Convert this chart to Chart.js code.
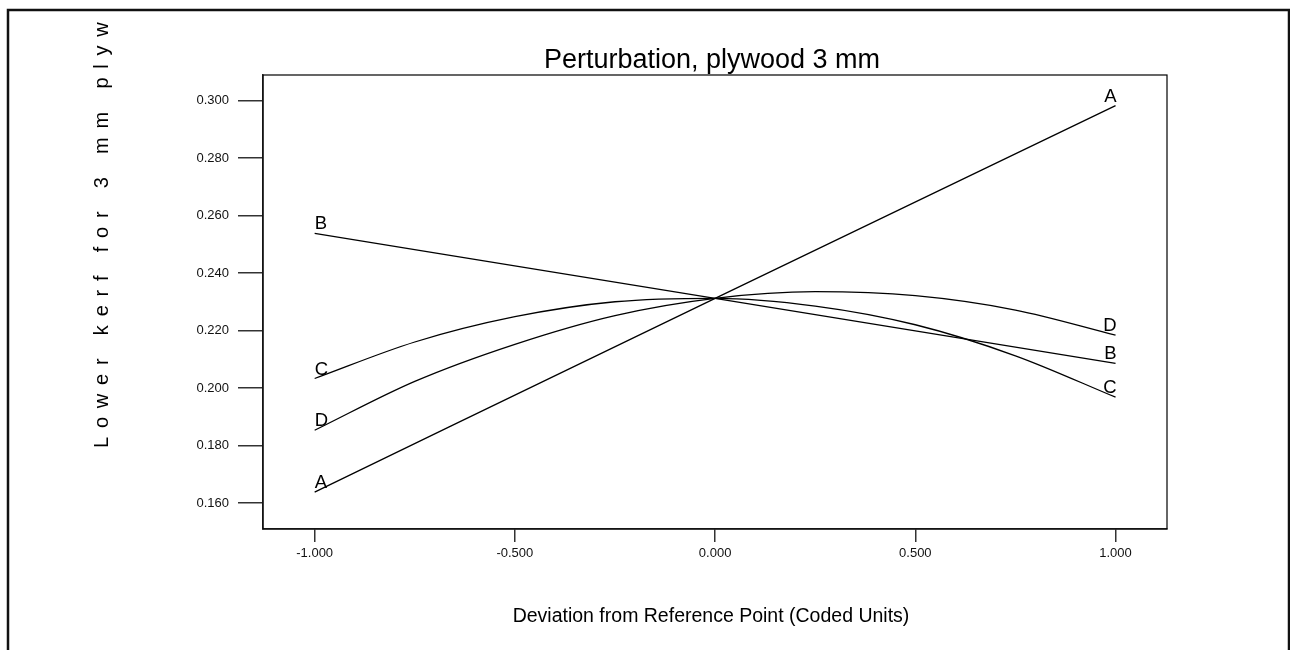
<!DOCTYPE html>
<html>
<head>
<meta charset="utf-8">
<script src="https://cdn.jsdelivr.net/npm/chart.js@4.4.0/dist/chart.umd.min.js"></script>
<style>
  html, body { margin: 0; padding: 0; background: #fff; }
  #wrap { width: 1290px; height: 650px; }
</style>
</head>
<body>
<div id="wrap"><canvas id="perturbation" width="1290" height="650"></canvas></div>
<script>
// values
const seriesNames = ['A', 'B', 'C', 'D'];
const xLine = [-1, 0, 1];
const xCurve = [-1, -0.75, -0.5, -0.25, 0, 0.25, 0.5, 0.75, 1];
const valuesA = [0.1638, 0.2312, 0.2982];
const valuesB = [0.2538, 0.2312, 0.2086];
const valuesC = [0.2033, 0.2160, 0.2248, 0.2300, 0.2312, 0.2285, 0.2220, 0.2112, 0.1968];
const valuesD = [0.1853, 0.2023, 0.2152, 0.2252, 0.2312, 0.2335, 0.2321, 0.2271, 0.2184];
const xTicks = [-1, -0.5, 0, 0.5, 1];
const yTicks = [0.16, 0.18, 0.20, 0.22, 0.24, 0.26, 0.28, 0.30];

const titleText = 'Perturbation, plywood 3 mm';
const xTitle = 'Deviation from Reference Point (Coded Units)';
const yTitle = 'Lower kerf for 3 mm plyw';
const FONT = '"Liberation Sans", Arial, sans-serif';

function pts(xs, ys) {
  return xs.map((x, i) => ({x: x, y: ys[i]}));
}

const data = {
  datasets: [
    {label: seriesNames[0], data: pts(xLine, valuesA)},
    {label: seriesNames[1], data: pts(xLine, valuesB)},
    {label: seriesNames[2], data: pts(xCurve, valuesC)},
    {label: seriesNames[3], data: pts(xCurve, valuesD)}
  ].map(ds => Object.assign(ds, {
    borderColor: '#000',
    borderWidth: 1.3,
    pointRadius: 0,
    cubicInterpolationMode: 'monotone',
    fill: false
  }))
};

// outer frame, plot box, titles and end labels
const decor = {
  id: 'decor',
  afterDatasetsDraw(chart) {
    const ctx = chart.ctx;
    const a = chart.chartArea;
    const xs = chart.scales.x, ys = chart.scales.y;
    ctx.save();
    ctx.strokeStyle = '#000';
    ctx.lineWidth = 1.2;
    ctx.strokeRect(a.left, a.top, a.right - a.left, a.bottom - a.top);

    ctx.lineWidth = 2.5;
    ctx.strokeStyle = '#111';
    ctx.strokeRect(8, 10, 1281, 700);

    ctx.fillStyle = '#000';
    ctx.font = '27px ' + FONT;
    ctx.textAlign = 'center';
    ctx.textBaseline = 'alphabetic';
    ctx.fillText(titleText, 712, 68);

    ctx.font = '19.5px ' + FONT;
    ctx.fillText(xTitle, 711, 622);

    // letter-spaced rotated y title
    ctx.save();
    ctx.translate(108, 448);
    ctx.rotate(-Math.PI / 2);
    ctx.font = '20px ' + FONT;
    ctx.textAlign = 'left';
    let pos = 0;
    for (const ch of yTitle) {
      ctx.fillText(ch, pos, 0);
      pos += ctx.measureText(ch).width + 8.8;
    }
    ctx.restore();

    // series letters at both ends
    ctx.font = '18.5px ' + FONT;
    chart.data.datasets.forEach(ds => {
      const first = ds.data[0], last = ds.data[ds.data.length - 1];
      ctx.textAlign = 'left';
      ctx.fillText(ds.label, xs.getPixelForValue(first.x), ys.getPixelForValue(first.y) - 4);
      ctx.textAlign = 'right';
      ctx.fillText(ds.label, xs.getPixelForValue(last.x) + 1, ys.getPixelForValue(last.y) - 4);
    });
    ctx.restore();
  }
};

new Chart(document.getElementById('perturbation'), {
  type: 'line',
  data: data,
  plugins: [decor],
  options: {
    responsive: false,
    animation: false,
    layout: {padding: {left: 0, top: 75, right: 123, bottom: 81}},
    plugins: {legend: {display: false}, tooltip: {enabled: false}, title: {display: false}},
    scales: {
      x: {
        type: 'linear',
        min: -1.129,
        max: 1.1285,
        afterBuildTicks: s => { s.ticks = xTicks.map(v => ({value: v})); },
        afterFit: s => { s.height = 40; },
        grid: {display: true, drawOnChartArea: false, drawTicks: true, tickLength: 13, color: '#333', lineWidth: 1.5},
        border: {display: true, color: '#333', width: 1.5},
        ticks: {
          color: '#111',
          padding: 4,
          maxRotation: 0,
          font: {family: FONT, size: 13},
          callback: v => v.toFixed(3)
        }
      },
      y: {
        type: 'linear',
        min: 0.15095,
        max: 0.30888,
        afterBuildTicks: s => { s.ticks = yTicks.map(v => ({value: v})); },
        afterFit: s => { s.width = 263; },
        grid: {display: true, drawOnChartArea: false, drawTicks: true, tickLength: 25, color: '#333', lineWidth: 1.5},
        border: {display: true, color: '#333', width: 1.5},
        ticks: {
          color: '#111',
          padding: 9,
          font: {family: FONT, size: 13},
          callback: v => v.toFixed(3)
        }
      }
    }
  }
});
</script>
</body>
</html>
